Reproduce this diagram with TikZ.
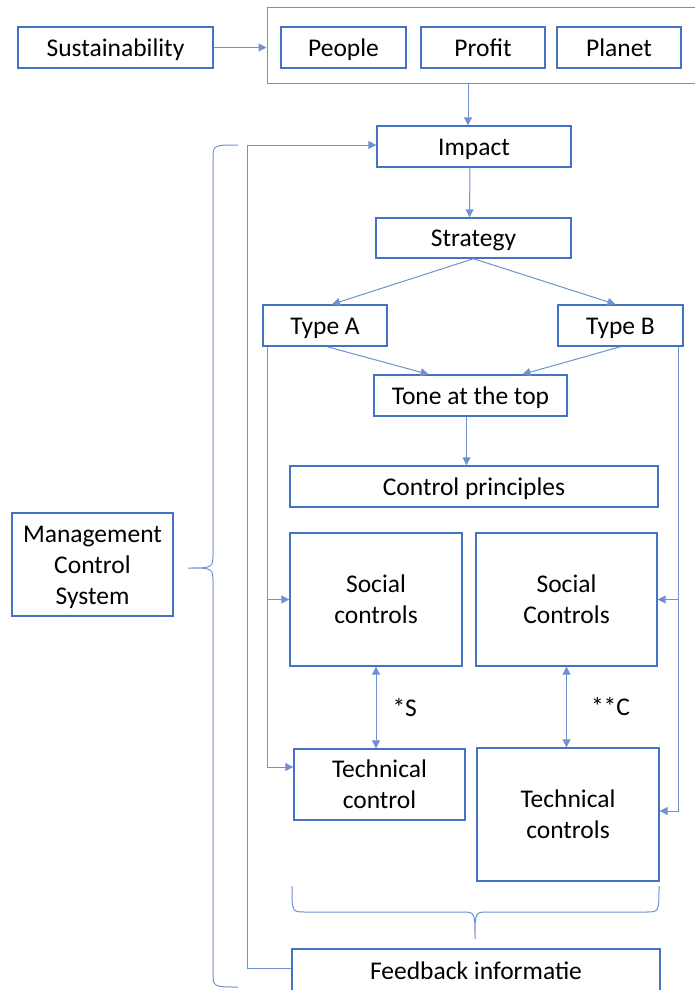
\documentclass[tikz,border=0pt]{standalone}
\usepackage{fontspec}
\setmainfont{Carlito}
\definecolor{boxblue}{RGB}{68, 114, 196}
\definecolor{lineblue}{RGB}{110, 145, 210}
\usetikzlibrary{arrows.meta, positioning}

% line strut with the font's own ascent and descent
\newcommand{\lnstrut}{\rule[-0.269em]{0pt}{1.221em}}

\tikzset{
  box/.style={draw=boxblue, line width=1.4pt, inner sep=0pt, align=center,
    font=\fontsize{25.5pt}{31pt}\selectfont,
    execute at begin node=\lnstrut, execute at end node=\lnstrut},
  frame/.style={draw=lineblue, line width=1pt, inner sep=0pt},
  arrow/.style={draw=lineblue, line width=1pt, -{Triangle[length=8pt, width=8pt]}},
  dblarrow/.style={arrow, {Triangle[length=8pt, width=8pt]}-{Triangle[length=8pt, width=8pt]}},
  brace/.style={draw=lineblue, line width=1pt},
  tag/.style={font=\fontsize{25.5pt}{31pt}\selectfont, inner sep=0pt}
}

\begin{document}
\begin{tikzpicture}[x=1pt, y=-1pt]
  \useasboundingbox (0,0) rectangle (694,990);

  % Sustainability and the three P's
  \node[box, minimum width=195, minimum height=41] (sust) at (115.5,47.5) {Sustainability};
  \node[frame, minimum width=440, minimum height=75] (ppp) at (487,45.5) {};
  \node[box, minimum width=125, minimum height=41] (people) at (343.5,47.5) {People};
  \node[box, minimum width=124, minimum height=41] (profit) at (483,47.5) {Profit};
  \node[box, minimum width=124, minimum height=41] (planet) at (619,47.5) {Planet};

  % Impact, strategy and the two types
  \node[box, minimum width=194, minimum height=41] (impact) at (474,146.5) {Impact};
  \node[box, minimum width=195, minimum height=40] (strategy) at (473.5,238) {Strategy};
  \node[box, minimum width=124, minimum height=41] (typeA) at (325,325.5) {Type A};
  \node[box, minimum width=125, minimum height=41] (typeB) at (620.5,325.5) {Type B};
  \node[box, minimum width=193, minimum height=41] (tone) at (470.5,395.5) {Tone at the top};
  \node[box, minimum width=368, minimum height=41] (principles) at (474,486.5) {Control principles};

  % Social and technical controls
  \node[box, minimum width=172, minimum height=133] (socialA) at (376,599.5) {\lnstrut Social\\controls};
  \node[box, minimum width=181, minimum height=133] (socialB) at (566.5,599.5) {\lnstrut Social\\Controls};
  \node[box, minimum width=171, minimum height=71] (techA) at (379.5,784.5) {\lnstrut Technical\\control};
  \node[box, minimum width=182, minimum height=133] (techB) at (568,814.5) {\lnstrut Technical\\controls};

  \node[box, minimum width=368, minimum height=43] (feedback) at (476,970.5) {Feedback informatie};
  \node[box, minimum width=161, minimum height=103] (mcs) at (92.5,564.5) {\lnstrut Management\\Control\\System};

  % arrows
  \draw[arrow] (sust.east) -- (sust.east -| ppp.west);
  \draw[arrow] ([xshift=-6pt]impact.north |- ppp.south) -- ([xshift=-6pt]impact.north);
  \draw[arrow] ([xshift=-4pt]impact.south) -- ([xshift=-4pt]strategy.north);
  \draw[arrow] (strategy.south) -- ([xshift=7pt]typeA.north);
  \draw[arrow] (strategy.south) -- ([xshift=-5pt]typeB.north);
  \draw[arrow] ([xshift=2pt]typeA.south) -- ([xshift=-42pt]tone.north);
  \draw[arrow] (typeB.south) -- ([xshift=52pt]tone.north);
  \draw[arrow] ([xshift=-4pt]tone.south) -- ([xshift=-4pt]tone.south |- principles.north);

  \draw[dblarrow] (socialA.south) -- node[tag, right=16pt] {*S} (socialA.south |- techA.north);
  \draw[dblarrow] (socialB.south) -- node[tag, right=24pt] {**C} (socialB.south |- techB.north);

  % type A / type B feed both controls
  \draw[arrow] ([xshift=5pt]typeA.south west) |- ([yshift=17.5pt]techA.west);
  \draw[arrow] ([xshift=5pt]typeA.south west |- socialA.west) -- (socialA.west);
  \draw[arrow] ([xshift=-5pt]typeB.south east) |- ([yshift=3.5pt]techB.east);
  \draw[arrow] ([xshift=-5pt]typeB.south east |- socialB.east) -- (socialB.east);

  % feedback loop
  \draw[arrow] ([yshift=2pt]feedback.west) -- ++(-44,0) |- ([yshift=1.5pt]impact.west);

  % braces
  \draw[brace] (292,886) .. controls (292,912) .. (305,912) -- (462,912)
    .. controls (475,912) .. (475,939) .. controls (475,912) .. (488,912)
    -- (646,912) .. controls (659,912) .. (659,886);
  \draw[brace] (238,145) .. controls (213,145) .. (213,160) -- (213,553)
    .. controls (213,568) .. (188,568) .. controls (213,568) .. (213,583)
    -- (213,972) .. controls (213,987) .. (238,987);
\end{tikzpicture}
\end{document}
